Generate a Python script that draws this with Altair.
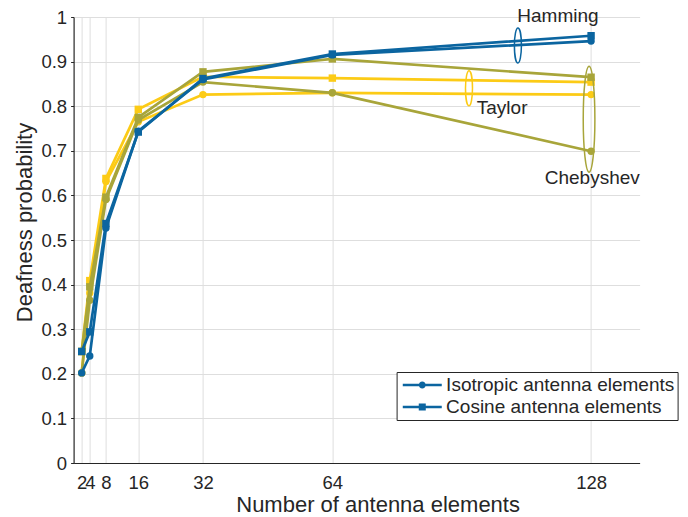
import altair as alt
import pandas as pd

# Array sizes on the x axis
n_elements = [2, 4, 8, 16, 32, 64, 128]

# Deafness probability per taper, isotropic vs. cosine element patterns
hamming_iso = [0.202, 0.240, 0.527, 0.744, 0.860, 0.915, 0.946]
hamming_cos = [0.250, 0.294, 0.537, 0.742, 0.862, 0.917, 0.958]
taylor_iso = [0.202, 0.381, 0.631, 0.765, 0.826, 0.830, 0.826]
taylor_cos = [0.250, 0.409, 0.638, 0.793, 0.866, 0.863, 0.854]
cheb_iso = [0.202, 0.365, 0.591, 0.769, 0.854, 0.830, 0.699]
cheb_cos = [0.250, 0.395, 0.596, 0.775, 0.877, 0.906, 0.865]

tapers = ["Taylor", "Chebyshev", "Hamming"]  # drawing order
elements = ["Isotropic antenna elements", "Cosine antenna elements"]
series = {
    ("Hamming", elements[0]): hamming_iso,
    ("Hamming", elements[1]): hamming_cos,
    ("Taylor", elements[0]): taylor_iso,
    ("Taylor", elements[1]): taylor_cos,
    ("Chebyshev", elements[0]): cheb_iso,
    ("Chebyshev", elements[1]): cheb_cos,
}

# Callout labels and the loops that group each taper's pair of curves
note_labels = ["Hamming", "Taylor", "Chebyshev"]
note_text_n = [119.8, 106.0, 128.3]
note_text_p = [1.003, 0.796, 0.638]
loop_n = [109.9, 97.8, 127.5]
loop_p = [0.936, 0.840, 0.771]

colors = {"Hamming": "#0b65a0", "Taylor": "#fccb16", "Chebyshev": "#a8a53a"}
FONT = "Liberation Sans"
INK = "#262626"

rows = []
for (taper, elem), vals in series.items():
    for n, p in zip(n_elements, vals):
        rows.append({"N": n, "p": p, "taper": taper, "element": elem})
df = pd.DataFrame(rows)

x_enc = alt.X(
    "N:Q",
    scale=alt.Scale(domain=[0, 140], nice=False, zero=False),
    axis=alt.Axis(
        values=n_elements, title="Number of antenna elements", grid=True,
        ticks=False, labelPadding=10, titlePadding=3, labelOverlap=False,
        labelFlush=False, titleX=304, titleAnchor="middle",
    ),
)
y_enc = alt.Y(
    "p:Q",
    scale=alt.Scale(domain=[0, 1], nice=False),
    axis=alt.Axis(
        values=[round(i * 0.1, 1) for i in range(11)], format=".1~f",
        title="Deafness probability", grid=True, tickSize=3, labelPadding=4,
        titlePadding=4, labelFlush=False, labelOverlap=False,
        titleY=205, titleAnchor="middle",
    ),
)

layers = []
for taper in tapers:
    sub = alt.Chart(df).transform_filter(alt.datum.taper == taper)
    layers.append(
        sub.mark_line(strokeWidth=2.7, color=colors[taper]).encode(
            x=x_enc, y=y_enc, detail="element:N"
        )
    )
    layers.append(
        sub.mark_point(filled=True, size=55, opacity=1, color=colors[taper]).encode(
            x=x_enc, y=y_enc,
            shape=alt.Shape("element:N",
                            scale=alt.Scale(domain=elements, range=["circle", "square"]),
                            legend=None),
        )
    )

# Loops around each taper's pair of curves
loop_shapes = [
    ("M0,-1A0.2,1,0,1,1,0,1A0.2,1,0,1,1,0,-1Z", 35 ** 2),
    ("M0,-1A0.2,1,0,1,1,0,1A0.2,1,0,1,1,0,-1Z", 35 ** 2),
    ("M0,-1A0.11,1,0,1,1,0,1A0.11,1,0,1,1,0,-1Z", 106 ** 2),
]
for i, label in enumerate(note_labels):
    path, sz = loop_shapes[i]
    loop_df = pd.DataFrame({"N": [loop_n[i]], "p": [loop_p[i]]})
    layers.append(
        alt.Chart(loop_df).mark_point(
            shape=path, size=sz, filled=False, strokeWidth=1.5,
            color=colors[label], opacity=1,
        ).encode(x=x_enc, y=y_enc)
    )

notes_df = pd.DataFrame({"N": note_text_n, "p": note_text_p, "label": note_labels})
layers.append(
    alt.Chart(notes_df).mark_text(font=FONT, fontSize=19, color=INK).encode(
        x=x_enc, y=y_enc, text="label:N"
    )
)

# Legend: line-with-marker symbols (line drawn as a thin filled bar)
legend_paths = [
    "M-0.7,-0.13H3.3V0.13H-0.7Z"
    "M1.66,0A0.36,0.36,0,1,1,0.94,0A0.36,0.36,0,1,1,1.66,0Z",
    "M-0.7,-0.13H3.3V0.13H-0.7Z"
    "M0.94,-0.36H1.66V0.36H0.94Z",
]
blue = colors["Hamming"]
layers.append(
    alt.Chart(df).transform_filter("datum.N < 0").mark_point(
        filled=True, color=blue
    ).encode(
        x=x_enc, y=y_enc,
        shape=alt.Shape(
            "element:N",
            scale=alt.Scale(domain=elements, range=legend_paths),
            legend=alt.Legend(
                title=None, orient="none", legendX=323, legendY=355,
                labelFont=FONT, labelFontSize=19, labelColor=INK, labelLimit=0,
                symbolSize=380, symbolFillColor=blue, symbolOpacity=1,
                symbolStrokeWidth=0,
                labelOffset=26.5, padding=3, rowPadding=2,
                strokeColor=INK, fillColor="white",
            ),
        ),
    )
)

chart = (
    alt.layer(*layers)
    .resolve_scale(shape="independent")
    .properties(
        width=566, height=446,
        autosize=alt.AutoSizeParams(type="none"),
        padding={"left": 73.6, "top": 17, "right": 48.4, "bottom": 54},
        background="white",
    )
    .configure_view(stroke=None)
    .configure_axis(
        labelFont=FONT, titleFont=FONT, labelFontSize=18.5, titleFontSize=22,
        titleFontWeight="normal", labelColor=INK, titleColor=INK,
        domainColor=INK, domainWidth=1.2, tickColor=INK,
        gridColor="#dedede", gridWidth=1,
    )
)

chart.save("out.html", embed_options={"renderer": "svg", "actions": False})
